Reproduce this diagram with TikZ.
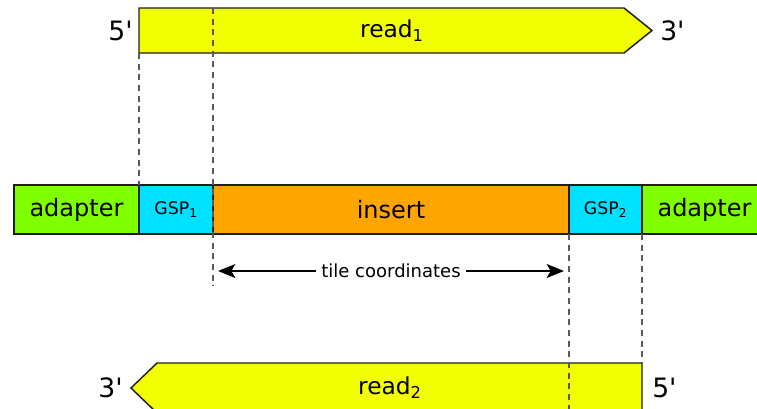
\documentclass[tikz,border=0pt]{standalone}
\usepackage{fontspec}
\setmainfont{DejaVu Sans}[Ligatures=TeXOff]
\usetikzlibrary{arrows.meta}
\usetikzlibrary{positioning}

\begin{document}
\begin{tikzpicture}[x=0.75pt,y=0.75pt,yscale=-1,xscale=1,
  seg/.style={draw={rgb, 255:red, 30; green, 30; blue, 30 },line width=1.1,inner sep=0,outer sep=0,minimum height=36.75pt},
  guide/.style={draw={rgb, 255:red, 90; green, 90; blue, 90 },line width=1,dash pattern=on 4.5pt off 3.5pt},
  big/.style={font=\fontsize{18}{22}\selectfont},
  readtxt/.style={font=\fontsize{17.5}{21}\selectfont},
  small/.style={font=\fontsize{13}{15}\selectfont},
  ends/.style={font=\fontsize{20}{24}\selectfont,inner sep=0}]
\useasboundingbox (0,0) rectangle (757,408);
\clip (0,0) rectangle (757,408);

%Shape: read 1 (5' -> 3')
\draw[seg,fill={rgb, 255:red, 242; green, 255; blue, 0 }] (139,8) coordinate (r1nw) -- (624,8) -- (652,30.5) coordinate (r1tip) -- (624,53) -- (139,53) coordinate (r1sw) -- cycle ;
\node[readtxt] (read1) at (392,30.5) {read\textsubscript{1}};
\node[ends,anchor=east] (r1five) at (133,30.5) {5'};
\node[ends,anchor=west] (r1three) at (660,30.5) {3'};

%Shape: read 2 (3' <- 5')
\draw[seg,fill={rgb, 255:red, 242; green, 255; blue, 0 }] (642,363) coordinate (r2ne) -- (157,363) -- (131,388) coordinate (r2tip) -- (157,413) -- (642,413) coordinate (r2se) -- cycle ;
\node[readtxt] (read2) at (390,388) {read\textsubscript{2}};
\node[ends,anchor=east] (r2three) at (123,388) {3'};
\node[ends,anchor=west] (r2five) at (652,388) {5'};

%Shape: adapter / GSP / insert bar
\node[seg,big,anchor=west,minimum width=93.75pt,fill={rgb, 255:red, 128; green, 255; blue, 0 }] (adapterL) at (14,209.5) {adapter};
\node[seg,small,right=0pt of adapterL,minimum width=55.5pt,fill={rgb, 255:red, 0; green, 225; blue, 255 }] (gsp1) {GSP\textsubscript{1}};
\node[seg,big,right=0pt of gsp1,minimum width=267pt,fill={rgb, 255:red, 255; green, 165; blue, 0 }] (insert) {insert};
\node[seg,small,right=0pt of insert,minimum width=54.75pt,fill={rgb, 255:red, 0; green, 225; blue, 255 }] (gsp2) {GSP\textsubscript{2}};
\node[seg,big,right=0pt of gsp2,minimum width=93.75pt,fill={rgb, 255:red, 128; green, 255; blue, 0 }] (adapterR) {adapter};

%Dashed guides
\coordinate (cutL) at (213,8);
\coordinate (cutLend) at (213,286);
\coordinate (cutRend) at (569,420);
\draw[guide] (r1sw) -- (gsp1.north west);
\draw[guide] (cutL) -- (cutLend);
\draw[guide] (gsp2.south west) -- (cutRend);
\draw[guide] (adapterR.south west) -- (r2ne);

%Straight Lines: tile coordinates
\coordinate (tileL) at (218,271);
\coordinate (tileR) at (564,271);
\draw[line width=1.1,{Stealth[length=13pt,width=10.5pt,inset=3pt]}-{Stealth[length=13pt,width=10.5pt,inset=3pt]}] (tileL) -- (tileR) node[midway,fill=white,inner xsep=4pt,inner ysep=1pt,font=\fontsize{13.5}{16}\selectfont] (tile) {tile coordinates};

\end{tikzpicture}
\end{document}
